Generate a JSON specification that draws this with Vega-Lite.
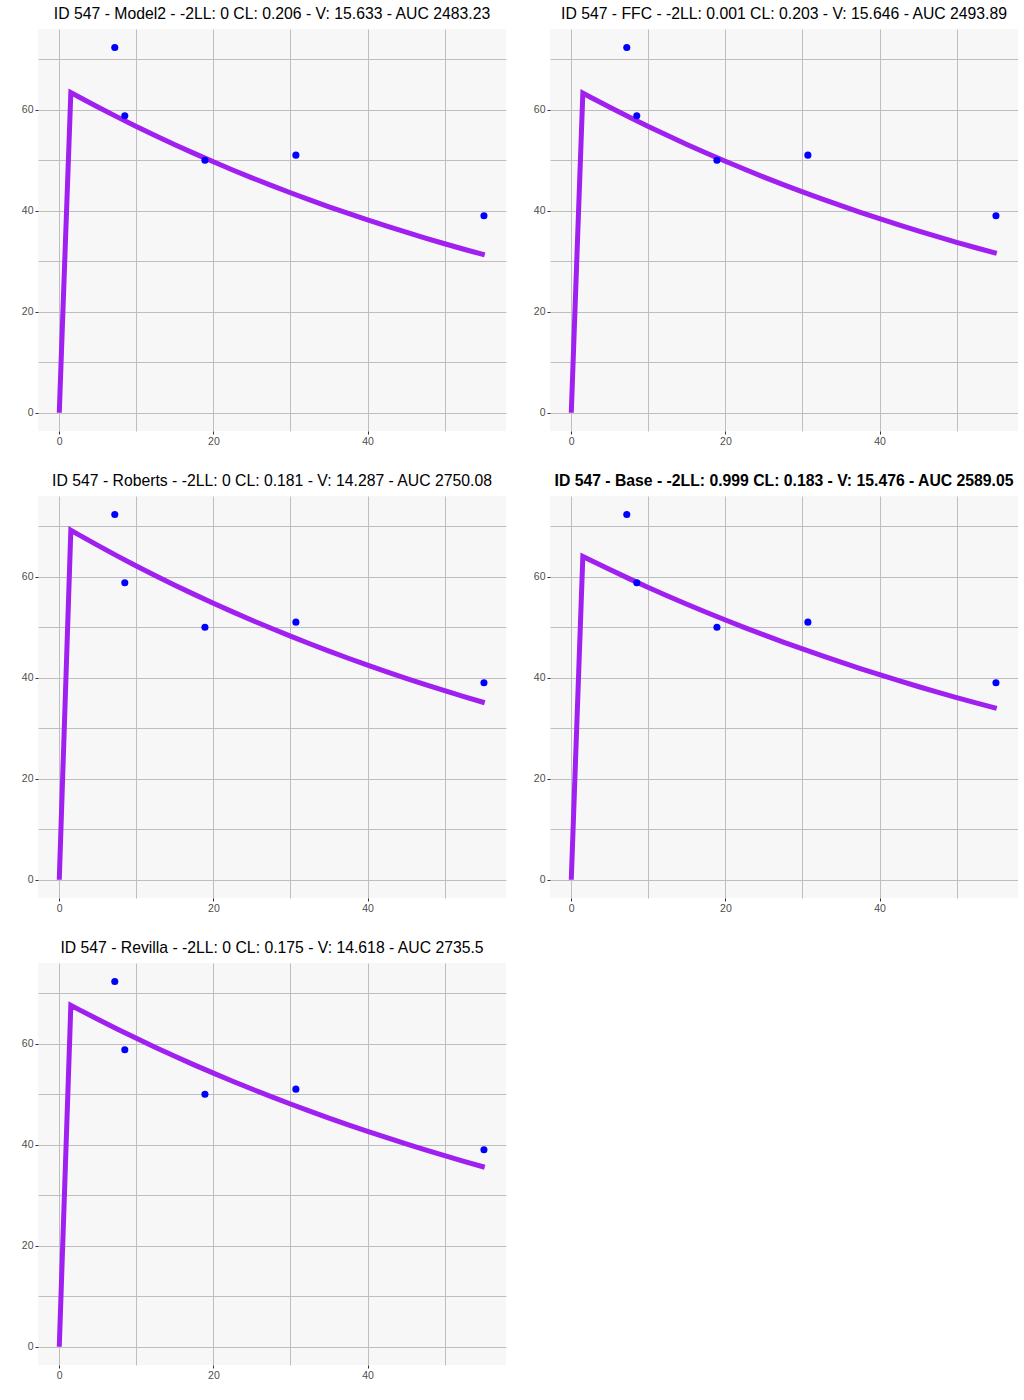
{
  "$schema": "https://vega.github.io/schema/vega-lite/v6.json",
  "padding": {"left": 21, "top": 6, "right": 0, "bottom": 0},
  "background": "white",
  "columns": 2,
  "bounds": "flush",
  "spacing": {"column": 44, "row": 65},
  "datasets": {
    "curve": [
      {"t": 0, "Model2": 0, "FFC": 0, "Roberts": 0, "Base": 0, "Revilla": 0},
      {"t": 0.5, "Model2": 21.2, "FFC": 21.1, "Roberts": 23.07, "Base": 21.33, "Revilla": 22.53},
      {"t": 1.0, "Model2": 42.3, "FFC": 42.2, "Roberts": 46.13, "Base": 42.67, "Revilla": 45.07},
      {"t": 1.5, "Model2": 63.4, "FFC": 63.3, "Roberts": 69.2, "Base": 64.0, "Revilla": 67.6},
      {"t": 2.5, "Model2": 62.57, "FFC": 62.48, "Roberts": 68.33, "Base": 63.25, "Revilla": 66.8},
      {"t": 5, "Model2": 60.54, "FFC": 60.49, "Roberts": 66.2, "Base": 61.41, "Revilla": 64.83},
      {"t": 7.5, "Model2": 58.58, "FFC": 58.56, "Roberts": 64.13, "Base": 59.62, "Revilla": 62.91},
      {"t": 10, "Model2": 56.68, "FFC": 56.69, "Roberts": 62.13, "Base": 57.88, "Revilla": 61.06},
      {"t": 12.5, "Model2": 54.84, "FFC": 54.88, "Roberts": 60.2, "Base": 56.19, "Revilla": 59.26},
      {"t": 15, "Model2": 53.07, "FFC": 53.13, "Roberts": 58.32, "Base": 54.56, "Revilla": 57.51},
      {"t": 17.5, "Model2": 51.35, "FFC": 51.43, "Roberts": 56.5, "Base": 52.97, "Revilla": 55.81},
      {"t": 20, "Model2": 49.68, "FFC": 49.79, "Roberts": 54.74, "Base": 51.42, "Revilla": 54.17},
      {"t": 22.5, "Model2": 48.07, "FFC": 48.2, "Roberts": 53.03, "Base": 49.93, "Revilla": 52.57},
      {"t": 25, "Model2": 46.51, "FFC": 46.66, "Roberts": 51.38, "Base": 48.47, "Revilla": 51.02},
      {"t": 27.5, "Model2": 45.01, "FFC": 45.17, "Roberts": 49.78, "Base": 47.06, "Revilla": 49.52},
      {"t": 30, "Model2": 43.55, "FFC": 43.73, "Roberts": 48.23, "Base": 45.69, "Revilla": 48.06},
      {"t": 32.5, "Model2": 42.14, "FFC": 42.34, "Roberts": 46.72, "Base": 44.36, "Revilla": 46.64},
      {"t": 35, "Model2": 40.77, "FFC": 40.99, "Roberts": 45.27, "Base": 43.07, "Revilla": 45.27},
      {"t": 37.5, "Model2": 39.45, "FFC": 39.68, "Roberts": 43.85, "Base": 41.81, "Revilla": 43.93},
      {"t": 40, "Model2": 38.17, "FFC": 38.41, "Roberts": 42.49, "Base": 40.59, "Revilla": 42.64},
      {"t": 42.5, "Model2": 36.93, "FFC": 37.18, "Roberts": 41.16, "Base": 39.41, "Revilla": 41.38},
      {"t": 45, "Model2": 35.74, "FFC": 36.0, "Roberts": 39.88, "Base": 38.26, "Revilla": 40.16},
      {"t": 47.5, "Model2": 34.58, "FFC": 34.85, "Roberts": 38.64, "Base": 37.15, "Revilla": 38.97},
      {"t": 50, "Model2": 33.46, "FFC": 33.74, "Roberts": 37.43, "Base": 36.07, "Revilla": 37.82},
      {"t": 52.5, "Model2": 32.37, "FFC": 32.66, "Roberts": 36.26, "Base": 35.02, "Revilla": 36.71},
      {"t": 55.2, "Model2": 31.24, "FFC": 31.54, "Roberts": 35.04, "Base": 33.92, "Revilla": 35.54}
    ],
    "obs": [
      {"t": 7.2, "c": 72.3},
      {"t": 8.5, "c": 58.8},
      {"t": 18.9, "c": 50.0},
      {"t": 30.7, "c": 51.0},
      {"t": 55.1, "c": 39.0}
    ]
  },
  "concat": [
    {
      "width": 468, "height": 402,
      "title": {"text": "ID 547 - Model2 - -2LL: 0 CL: 0.206 - V: 15.633 - AUC 2483.23"},
      "layer": [
        {"data": {"name": "curve"}, "mark": {"type": "line", "color": "#A020F0", "strokeWidth": 5, "strokeJoin": "miter"},
         "encoding": {"x": {"field": "t", "type": "quantitative", "scale": {"domain": [-2.76, 57.96], "nice": false, "zero": false}, "axis": {"values": [0, 10, 20, 30, 40, 50], "title": null}},
                      "y": {"field": "Model2", "type": "quantitative", "scale": {"domain": [-3.62, 75.98], "nice": false, "zero": false}, "axis": {"values": [0, 10, 20, 30, 40, 50, 60, 70], "title": null}}}},
        {"data": {"name": "obs"}, "mark": {"type": "circle", "color": "#0000FF", "size": 50, "opacity": 1},
         "encoding": {"x": {"field": "t", "type": "quantitative"}, "y": {"field": "c", "type": "quantitative"}}}
      ]
    },
    {
      "width": 468, "height": 402,
      "title": {"text": "ID 547 - FFC - -2LL: 0.001 CL: 0.203 - V: 15.646 - AUC 2493.89"},
      "layer": [
        {"data": {"name": "curve"}, "mark": {"type": "line", "color": "#A020F0", "strokeWidth": 5, "strokeJoin": "miter"},
         "encoding": {"x": {"field": "t", "type": "quantitative", "scale": {"domain": [-2.76, 57.96], "nice": false, "zero": false}, "axis": {"values": [0, 10, 20, 30, 40, 50], "title": null}},
                      "y": {"field": "FFC", "type": "quantitative", "scale": {"domain": [-3.62, 75.98], "nice": false, "zero": false}, "axis": {"values": [0, 10, 20, 30, 40, 50, 60, 70], "title": null}}}},
        {"data": {"name": "obs"}, "mark": {"type": "circle", "color": "#0000FF", "size": 50, "opacity": 1},
         "encoding": {"x": {"field": "t", "type": "quantitative"}, "y": {"field": "c", "type": "quantitative"}}}
      ]
    },
    {
      "width": 468, "height": 402,
      "title": {"text": "ID 547 - Roberts - -2LL: 0 CL: 0.181 - V: 14.287 - AUC 2750.08"},
      "layer": [
        {"data": {"name": "curve"}, "mark": {"type": "line", "color": "#A020F0", "strokeWidth": 5, "strokeJoin": "miter"},
         "encoding": {"x": {"field": "t", "type": "quantitative", "scale": {"domain": [-2.76, 57.96], "nice": false, "zero": false}, "axis": {"values": [0, 10, 20, 30, 40, 50], "title": null}},
                      "y": {"field": "Roberts", "type": "quantitative", "scale": {"domain": [-3.62, 75.98], "nice": false, "zero": false}, "axis": {"values": [0, 10, 20, 30, 40, 50, 60, 70], "title": null}}}},
        {"data": {"name": "obs"}, "mark": {"type": "circle", "color": "#0000FF", "size": 50, "opacity": 1},
         "encoding": {"x": {"field": "t", "type": "quantitative"}, "y": {"field": "c", "type": "quantitative"}}}
      ]
    },
    {
      "width": 468, "height": 402,
      "title": {"text": "ID 547 - Base - -2LL: 0.999 CL: 0.183 - V: 15.476 - AUC 2589.05", "fontWeight": "bold"},
      "layer": [
        {"data": {"name": "curve"}, "mark": {"type": "line", "color": "#A020F0", "strokeWidth": 5, "strokeJoin": "miter"},
         "encoding": {"x": {"field": "t", "type": "quantitative", "scale": {"domain": [-2.76, 57.96], "nice": false, "zero": false}, "axis": {"values": [0, 10, 20, 30, 40, 50], "title": null}},
                      "y": {"field": "Base", "type": "quantitative", "scale": {"domain": [-3.62, 75.98], "nice": false, "zero": false}, "axis": {"values": [0, 10, 20, 30, 40, 50, 60, 70], "title": null}}}},
        {"data": {"name": "obs"}, "mark": {"type": "circle", "color": "#0000FF", "size": 50, "opacity": 1},
         "encoding": {"x": {"field": "t", "type": "quantitative"}, "y": {"field": "c", "type": "quantitative"}}}
      ]
    },
    {
      "width": 468, "height": 402,
      "title": {"text": "ID 547 - Revilla - -2LL: 0 CL: 0.175 - V: 14.618 - AUC 2735.5"},
      "layer": [
        {"data": {"name": "curve"}, "mark": {"type": "line", "color": "#A020F0", "strokeWidth": 5, "strokeJoin": "miter"},
         "encoding": {"x": {"field": "t", "type": "quantitative", "scale": {"domain": [-2.76, 57.96], "nice": false, "zero": false}, "axis": {"values": [0, 10, 20, 30, 40, 50], "title": null}},
                      "y": {"field": "Revilla", "type": "quantitative", "scale": {"domain": [-3.62, 75.98], "nice": false, "zero": false}, "axis": {"values": [0, 10, 20, 30, 40, 50, 60, 70], "title": null}}}},
        {"data": {"name": "obs"}, "mark": {"type": "circle", "color": "#0000FF", "size": 50, "opacity": 1},
         "encoding": {"x": {"field": "t", "type": "quantitative"}, "y": {"field": "c", "type": "quantitative"}}}
      ]
    }
  ],
  "config": {
    "view": {"stroke": null, "fill": "#F7F7F7"},
    "title": {"font": "Liberation Sans", "fontSize": 15.75, "fontWeight": "normal", "color": "#000000", "anchor": "middle", "offset": 6},
    "axis": {
      "domain": false,
      "labelFont": "Liberation Sans",
      "labelFontSize": 10.5,
      "labelColor": "#4D4D4D",
      "labelPadding": 2,
      "tickSize": 3,
      "tickColor": "#333333",
      "tickOpacity": {"condition": {"test": "datum.value % 20 === 0", "value": 1}, "value": 0},
      "labelExpr": "datum.value % 20 === 0 ? datum.label : ''",
      "gridColor": "#BEBEBE",
      "gridWidth": 1,
      "labelOverlap": false
    }
  }
}
